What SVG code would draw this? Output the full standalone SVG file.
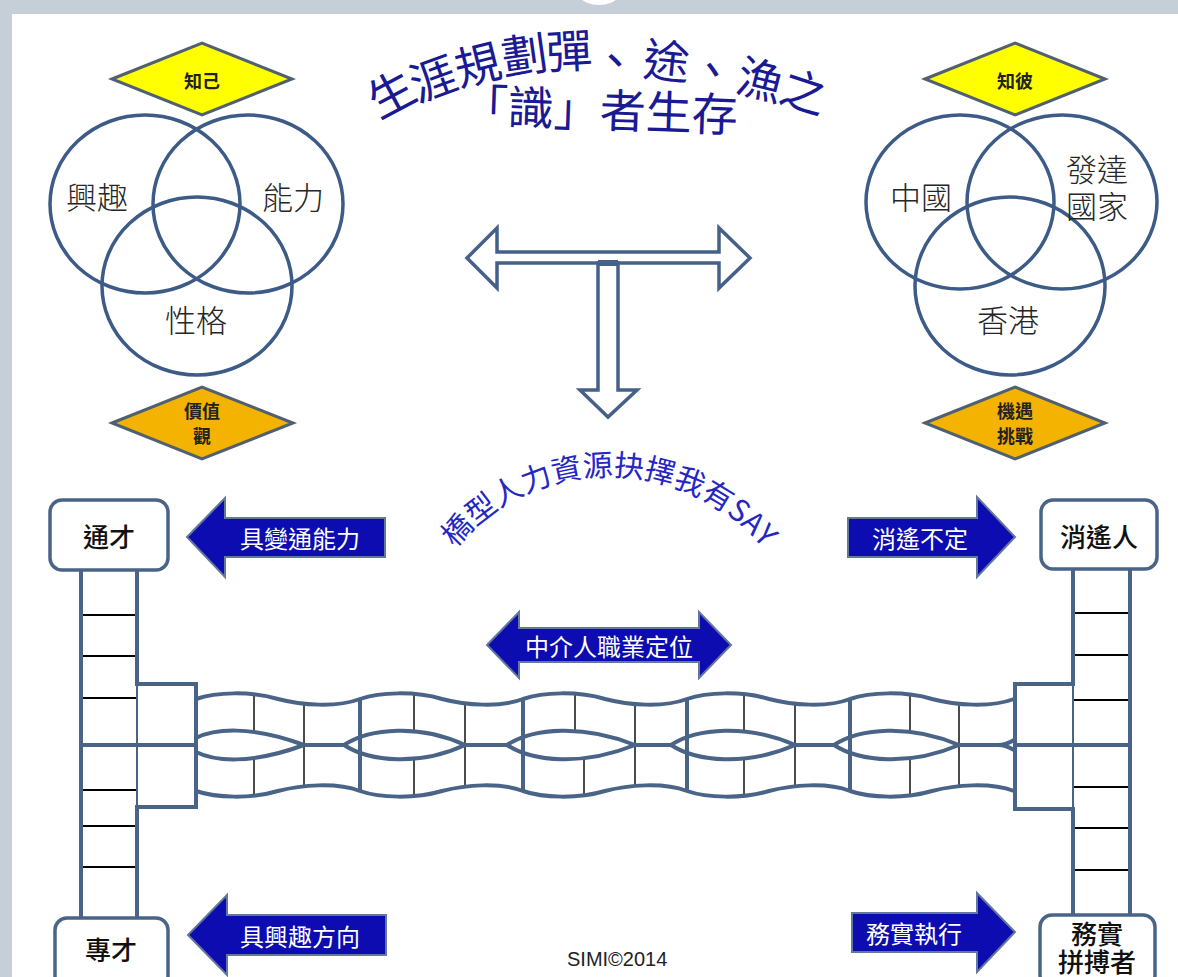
<svg xmlns="http://www.w3.org/2000/svg" width="1178" height="977" viewBox="0 0 1178 977">
<defs>
<style>
.cjk{font-family:"Noto Sans CJK TC","Noto Sans CJK JP",sans-serif}
.title{font-size:46px;fill:#1a1a94;text-anchor:middle;dominant-baseline:central;font-weight:400}
.venn{font-size:31px;font-weight:300;fill:#262626;text-anchor:middle;dominant-baseline:central}
.ell{fill:none;stroke:#3d5b87;stroke-width:3.5}
.diay{fill:#ffff00;stroke:#506070;stroke-width:3}
.diao{fill:#f3b300;stroke:#506070;stroke-width:3}
.dtext{font-size:18px;font-weight:700;fill:#222;text-anchor:middle;dominant-baseline:central}
.box{fill:#fff;stroke:#4a6488;stroke-width:3.5}
.btext{font-size:26px;fill:#111;text-anchor:middle;dominant-baseline:central;font-weight:500}
.barrow{fill:#0c0cb0;stroke:#63789a;stroke-width:2}
.atext{font-size:24px;fill:#fff;text-anchor:middle;dominant-baseline:central}
.rail{fill:none;stroke:#4a6488;stroke-width:4}
.rung{stroke:#000;stroke-width:2}
.thin{stroke:#111;stroke-width:1.5}
.strand{fill:none;stroke:#4a6488;stroke-width:4}
.outline{fill:#fff;stroke:#46608a;stroke-width:3.5;stroke-linejoin:miter}
</style>
<path id="arcSay" d="M 409 676 A 200 200 0 0 1 809 676"/>
</defs>

<rect x="0" y="0" width="1178" height="977" fill="#c6cfd7"/>
<rect x="12" y="14" width="1166" height="963" fill="#ffffff"/>
<circle cx="599" cy="-26" r="31" fill="#ffffff"/>

<g id="title" class="cjk">
<text class="title" transform="translate(390,91) rotate(-28)">生</text>
<text class="title" transform="translate(432,76) rotate(-20)">涯</text>
<text class="title" transform="translate(477,62) rotate(-14)">規</text>
<text class="title" transform="translate(524,52) rotate(-8)">劃</text>
<text class="title" transform="translate(569,48) rotate(-3)">彈</text>
<text class="title" transform="translate(615,57) rotate(0)">、</text>
<text class="title" transform="translate(667,58) rotate(6)">途</text>
<text class="title" transform="translate(713,67) rotate(10)">、</text>
<text class="title" transform="translate(761,77) rotate(14)">漁</text>
<text class="title" transform="translate(805,89) rotate(18)">之</text>
<text class="title" transform="translate(600,107) rotate(2)">「識」者生存</text>
</g>

<g id="node-zhiji">
<polygon class="diay" points="112,79 202,43 292,79 202,115"/>
<text class="cjk dtext" x="202" y="80">知己</text>
</g>
<g id="venn-self">
<ellipse class="ell" cx="145" cy="204" rx="95" ry="89"/>
<ellipse class="ell" cx="248" cy="204" rx="95" ry="89"/>
<ellipse class="ell" cx="197" cy="286" rx="95" ry="89"/>
<text class="cjk venn" x="97" y="195">興趣</text>
<text class="cjk venn" x="293" y="195">能力</text>
<text class="cjk venn" x="196" y="318">性格</text>
</g>
<g id="node-values">
<polygon class="diao" points="112,423 202,387 293,423 202,459"/>
<text class="cjk dtext" x="202" y="410">價值<tspan x="202" dy="25">觀</tspan></text>
</g>

<g id="node-zhibi">
<polygon class="diay" points="925,79 1015,43 1105,79 1015,115"/>
<text class="cjk dtext" x="1015" y="80">知彼</text>
</g>
<g id="venn-world">
<ellipse class="ell" cx="960" cy="202" rx="94" ry="87"/>
<ellipse class="ell" cx="1062" cy="202" rx="95" ry="87"/>
<ellipse class="ell" cx="1010" cy="286" rx="95" ry="89"/>
<text class="cjk venn" x="921" y="195">中國</text>
<text class="cjk venn" x="1097" y="167">發達<tspan x="1097" dy="37">國家</tspan></text>
<text class="cjk venn" x="1008" y="318">香港</text>
</g>
<g id="node-chance">
<polygon class="diao" points="925,423 1015,387 1105,423 1015,459"/>
<text class="cjk dtext" x="1015" y="410">機遇<tspan x="1015" dy="25">挑戰</tspan></text>
</g>

<g id="connectors">
<polygon class="outline" points="467,258 497,228 497,252 719,252 719,228 750,258 719,288 719,263 497,263 497,288"/>
<polygon class="outline" points="598,263 618,263 618,390 637,390 608,417 580,390 598,390"/>
<rect x="598" y="260" width="20" height="6" fill="#46608a"/>
</g>

<g id="arc-label">
<text class="cjk" font-size="30" fill="#2626c4"><textPath href="#arcSay" startOffset="50%" text-anchor="middle">橋型人力資源抉擇我有SAY</textPath></text>
</g>

<g id="node-generalist">
<rect class="box" x="50" y="500" width="118" height="70" rx="12"/>
<text class="cjk btext" x="109" y="535">通才</text>
</g>
<g id="node-arrow-flex">
<polygon class="barrow" points="187,537 225,498 225,518 385,518 385,557 225,557 225,577"/>
<text class="cjk atext" x="300" y="537">具變通能力</text>
</g>
<g id="node-free">
<rect class="box" x="1041" y="500" width="116" height="69" rx="12"/>
<text class="cjk btext" x="1099" y="535">消遙人</text>
</g>
<g id="node-arrow-free">
<polygon class="barrow" points="848,518 977,518 977,497 1015,537 977,577 977,557 848,557"/>
<text class="cjk atext" x="920" y="537">消遙不定</text>
</g>
<g id="node-arrow-mid">
<polygon class="barrow" points="487,645 519,612 519,628 699,628 699,612 731,645 699,678 699,662 519,662 519,678"/>
<text class="cjk atext" x="609" y="645">中介人職業定位</text>
</g>
<g id="node-specialist">
<rect class="box" x="55" y="918" width="113" height="70" rx="12"/>
<text class="cjk btext" x="111" y="948">專才</text>
</g>
<g id="node-arrow-interest">
<polygon class="barrow" points="188,935 227,895 227,915 386,915 386,955 227,955 227,975"/>
<text class="cjk atext" x="300" y="935">具興趣方向</text>
</g>
<g id="node-practical">
<rect class="box" x="1040" y="915" width="115" height="72" rx="12"/>
<text class="cjk btext" x="1097" y="932" font-size="24">務實<tspan x="1097" dy="28">拼搏者</tspan></text>
</g>
<g id="node-arrow-practical">
<polygon class="barrow" points="852,913 977,913 977,893 1015,932 977,972 977,952 852,952"/>
<text class="cjk atext" x="914" y="932">務實執行</text>
</g>

<g id="ladders">
<line class="rung" x1="81" y1="615" x2="137" y2="615"/>
<line class="rung" x1="81" y1="656" x2="137" y2="656"/>
<line class="rung" x1="81" y1="698" x2="137" y2="698"/>
<line class="rung" x1="81" y1="790" x2="137" y2="790"/>
<line class="rung" x1="81" y1="826" x2="137" y2="826"/>
<line class="rung" x1="81" y1="867" x2="137" y2="867"/>
<line x1="137" y1="684" x2="137" y2="807" stroke="#4a6488" stroke-width="2"/>
<path class="rail" d="M81 570 L81 918"/>
<path class="rail" d="M137 570 L137 684 L196 684 L196 807 L137 807 L137 918"/>
<path class="rail" d="M81 745 L196 745"/>

<line class="rung" x1="1073" y1="613" x2="1130" y2="613"/>
<line class="rung" x1="1073" y1="655" x2="1130" y2="655"/>
<line class="rung" x1="1073" y1="700" x2="1130" y2="700"/>
<line class="rung" x1="1073" y1="787" x2="1132" y2="787"/>
<line class="rung" x1="1073" y1="828" x2="1130" y2="828"/>
<line class="rung" x1="1073" y1="870" x2="1130" y2="870"/>
<line x1="1073" y1="684" x2="1073" y2="809" stroke="#4a6488" stroke-width="2"/>
<path class="rail" d="M1130 569 L1130 915"/>
<path class="rail" d="M1073 569 L1073 684 L1015 684 L1015 809 L1073 809 L1073 915"/>
<path class="rail" d="M1015 745 L1130 745"/>
</g>

<g id="weave">
<line class="thin" x1="254" y1="693" x2="254" y2="732"/><line class="thin" x1="254" y1="758" x2="254" y2="797"/>
<line class="thin" x1="414" y1="693" x2="414" y2="732"/><line class="thin" x1="414" y1="758" x2="414" y2="797"/>
<line class="thin" x1="575" y1="693" x2="575" y2="732"/><line class="thin" x1="584" y1="758" x2="584" y2="797"/>
<line class="thin" x1="744" y1="693" x2="744" y2="732"/><line class="thin" x1="744" y1="758" x2="744" y2="797"/>
<line class="thin" x1="910" y1="693" x2="910" y2="732"/><line class="thin" x1="910" y1="758" x2="910" y2="797"/>
<line class="thin" x1="304" y1="703" x2="304" y2="787"/>
<line class="thin" x1="465" y1="703" x2="465" y2="787"/>
<line class="thin" x1="635" y1="703" x2="635" y2="787"/>
<line class="thin" x1="795" y1="703" x2="795" y2="787"/>
<line class="thin" x1="959" y1="703" x2="959" y2="787"/>
<path class="strand" d="M196 699 C216 692 251 691 278 699 C301 705 336 708 360 699 C380 692 415 691 442 699 C465 705 500 708 523 699 C543 692 578 691 605 699 C628 705 663 708 687 699 C707 692 742 691 769 699 C792 705 827 708 850 699 C870 692 905 691 932 699 C955 705 990 708 1014 699"/>
<path class="strand" d="M196 791 C216 798 251 799 278 791 C301 785 336 782 360 791 C380 798 415 799 442 791 C465 785 500 782 523 791 C543 798 578 799 605 791 C628 785 663 782 687 791 C707 798 742 799 769 791 C792 785 827 782 850 791 C870 798 905 799 932 791 C955 785 990 782 1014 791"/>
<path class="strand" d="M196 738 C214 729 250 725 304 745 L344 745 C370 728 420 724 465 745 L507 745 C533 728 583 724 635 745 L671 745 C697 728 747 724 795 745 L834 745 C860 728 910 724 959 745 L998 745 Q1006 745 1014 740"/>
<path class="strand" d="M196 752 C214 761 250 765 304 745 L344 745 C370 762 420 766 465 745 L507 745 C533 762 583 766 635 745 L671 745 C697 762 747 766 795 745 L834 745 C860 762 910 766 959 745 L998 745 Q1006 745 1014 750"/>
<line class="rail" x1="360" y1="699" x2="360" y2="791"/>
<line class="rail" x1="523" y1="699" x2="523" y2="791"/>
<line class="rail" x1="687" y1="699" x2="687" y2="791"/>
<line class="rail" x1="850" y1="699" x2="850" y2="791"/>
</g>

<text x="567" y="966" font-family="Liberation Sans, Arial, sans-serif" font-size="20" fill="#222">SIMI©2014</text>
</svg>
